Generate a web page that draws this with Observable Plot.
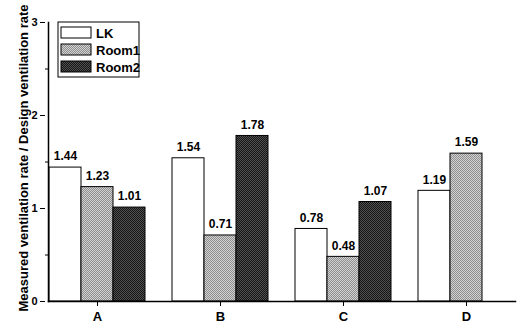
<!DOCTYPE html>
<html>
<head>
<meta charset="utf-8">
<script src="https://cdn.jsdelivr.net/npm/d3@7"></script>
<script src="https://cdn.jsdelivr.net/npm/@observablehq/plot@0.6"></script>
<style>
  html, body { margin: 0; padding: 0; background: #fff; }
  svg { font-family: "Liberation Sans", Arial, Helvetica, sans-serif; }
</style>
</head>
<body>
<div id="chart"></div>
<script>
// Ratio of measured to design ventilation rate, per site and room
const groups = ["A", "B", "C", "D"];
const series = ["LK", "Room1", "Room2"];
const lk    = [1.44, 1.54, 0.78, 1.19];
const room1 = [1.23, 0.71, 0.48, 1.59];
const room2 = [1.01, 1.78, 1.07, null];   // no Room2 measurement at D
const yTicks = [0, 1, 2, 3];
const yMinorTicks = [0.5, 1.5, 2.5];
const yTitle = "Measured ventilation rate / Design ventilation rate";

const rows = [];
groups.forEach((g, i) => {
  [lk, room1, room2].forEach((vals, j) => {
    if (vals[i] != null) rows.push({group: g, series: series[j], value: vals[i]});
  });
});

const bold = {fontWeight: "bold"};
const outerGap = 3; // frame edge to the first group's bars

const plot = Plot.plot({
  width: 520,
  height: 324,
  marginLeft: 43,
  marginRight: 0,
  marginTop: 22,
  marginBottom: 23,
  style: {fontFamily: '"Liberation Sans", Arial, sans-serif', color: "#000", background: "#fff"},
  fx: {domain: groups, paddingInner: 0.2016, paddingOuter: 0.0242, axis: null, label: null},
  x: {domain: series, paddingInner: 0, paddingOuter: 0, axis: null},
  y: {domain: [0, 3], axis: null},
  color: {type: "ordinal", domain: series, range: ["#ffffff", "url(#fill-room1)", "url(#fill-room2)"]},
  marks: [
    Plot.barY(rows, {fx: "group", x: "series", y: "value", fill: "series", stroke: "#000", strokeWidth: 1}),
    Plot.text(rows, {fx: "group", x: "series", y: "value", text: d => d.value.toFixed(2),
      dy: -11, fontSize: 12, ...bold, fill: "#000"}),
    // axes
    Plot.frame({anchor: "bottom", facet: "super", stroke: "#000", strokeWidth: 1.5}),
    Plot.frame({anchor: "left", facet: "super", stroke: "#000", strokeWidth: 1.5}),
    Plot.axisY({ticks: yTicks, tickFormat: d3.format("d"), tickSize: 5, tickPadding: 3, fontSize: 11, ...bold,
      label: null, dx: -outerGap, stroke: "#000"}),
    Plot.axisY({ticks: yMinorTicks, tickSize: -3, text: null, label: null, dx: -outerGap, stroke: "#000"}),
    Plot.axisFx({anchor: "bottom", tickSize: 5, tickPadding: 5, fontSize: 13, ...bold, label: null, stroke: "#000"}),
    Plot.text([yTitle], {frameAnchor: "left", textAnchor: "middle", dx: -25, dy: -4, rotate: -90,
      fontSize: 13, ...bold, facet: "super", fill: "#000"})
  ]
});

// dithered fills for the two room series
const svg = d3.select(plot);
const defs = svg.insert("defs", ":first-child");
function dither(id, base, dot) {
  const p = defs.append("pattern").attr("id", id)
    .attr("patternUnits", "userSpaceOnUse").attr("width", 2).attr("height", 2);
  p.append("rect").attr("width", 2).attr("height", 2).attr("fill", base);
  p.append("rect").attr("width", 1).attr("height", 1).attr("fill", dot);
  p.append("rect").attr("x", 1).attr("y", 1).attr("width", 1).attr("height", 1).attr("fill", dot);
}
dither("fill-room1", "#d2d2d2", "#8e8e8e");
dither("fill-room2", "#161616", "#505050");

// legend box in the upper left of the frame
const color = plot.scale("color");
const legend = svg.append("g").attr("transform", "translate(58,22)");
legend.append("rect").attr("width", 81).attr("height", 55)
  .attr("fill", "#fff").attr("stroke", "#000").attr("stroke-width", 1);
series.forEach((s, i) => {
  const row = legend.append("g").attr("transform", `translate(3,${5 + i * 17})`);
  row.append("rect").attr("width", 30).attr("height", 11)
    .attr("fill", color.apply(s)).attr("stroke", "#000").attr("stroke-width", 1);
  row.append("text").attr("x", 35).attr("y", 10.5).attr("text-anchor", "start")
    .attr("font-size", 13).attr("font-weight", "bold").attr("fill", "#000").text(s);
});

document.getElementById("chart").append(plot);
</script>
</body>
</html>
